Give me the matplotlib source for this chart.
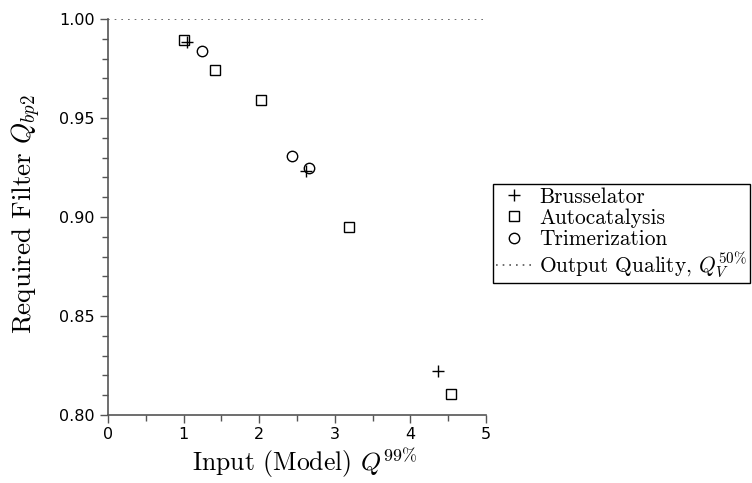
import matplotlib
matplotlib.use("Agg")
import matplotlib.pyplot as plt
from matplotlib.ticker import MultipleLocator

plt.rcParams['mathtext.fontset'] = 'cm'
plt.rcParams['axes.unicode_minus'] = False

bru_x = [1.05, 2.62, 4.37]
bru_y = [0.9884, 0.923, 0.822]
auto_x = [1.005, 1.415, 2.02, 3.19, 4.54]
auto_y = [0.9894, 0.974, 0.959, 0.895, 0.8106]
tri_x = [1.24, 2.43, 2.66]
tri_y = [0.984, 0.931, 0.925]
quality = 1.00

fig = plt.figure(figsize=(7.52, 4.83), dpi=100)
ax = fig.add_axes([108/752, 1-415/483, 378/752, 396/483])

ax.plot(bru_x, bru_y, linestyle='none', marker='+', color='black', markersize=9, markeredgewidth=1.0, label='Brusselator')
ax.plot(auto_x, auto_y, linestyle='none', marker='s', color='black', markerfacecolor='none', markersize=7.5, markeredgewidth=1.0, label='Autocatalysis')
ax.plot(tri_x, tri_y, linestyle='none', marker='o', color='black', markerfacecolor='none', markersize=7.5, markeredgewidth=1.0, label='Trimerization')
ax.plot([0, 5], [quality, quality], linestyle=(0, (1, 3)), color='#555555', linewidth=1.2, label=r'Output Quality, $Q_V^{50\%}$')

ax.set_xlim(0, 5)
ax.set_ylim(0.8, 1.0)
ax.xaxis.set_major_locator(MultipleLocator(1))
ax.xaxis.set_minor_locator(MultipleLocator(0.5))
ax.yaxis.set_major_locator(MultipleLocator(0.05))
ax.yaxis.set_minor_locator(MultipleLocator(0.01))
ax.yaxis.set_major_formatter(matplotlib.ticker.FormatStrFormatter('%.2f'))

for s in ['top', 'right']:
    ax.spines[s].set_visible(False)
for s in ['left', 'bottom']:
    ax.spines[s].set_color('#555555')
    ax.spines[s].set_linewidth(1.2)
ax.tick_params(which='both', direction='out', color='#555555', width=1.0, labelsize=11.5)
ax.tick_params(which='major', length=6)
ax.tick_params(which='minor', length=4)
ax.tick_params(axis='x', pad=2.5)

ax.set_xlabel(r'Input (Model) $Q^{99\%}$', fontfamily='cmr10', fontsize=18.5)
ax.xaxis.set_label_coords(0.52, -(445 - 415) / 396)
ax.set_ylabel(r'Required Filter $Q_{bp2}$', fontfamily='cmr10', fontsize=19.5)
ax.yaxis.set_label_coords(-(108 - 43) / 378, (415 - 214) / 396)

leg = ax.legend(loc='upper left', bbox_to_anchor=(493/752, 1-184/483), bbox_transform=fig.transFigure,
                prop={'family': 'cmr10', 'size': 15.4}, fancybox=False, edgecolor='black',
                framealpha=1, borderpad=0.15, labelspacing=0.08, handlelength=1.7, handletextpad=0.3,
                borderaxespad=0)
leg.get_frame().set_linewidth(1.0)

fig.savefig('out.png', dpi=100)
